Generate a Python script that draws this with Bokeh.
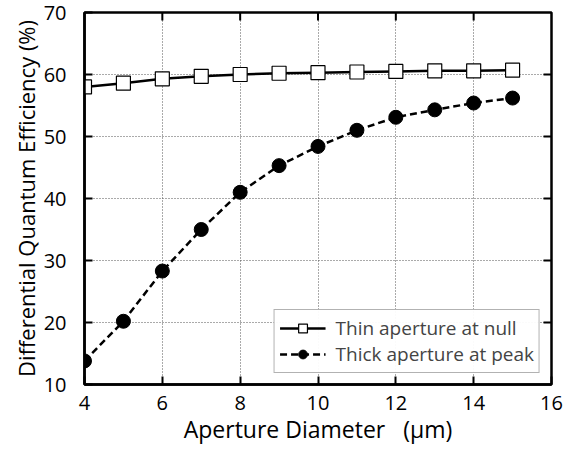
import math
from bokeh.plotting import figure
from bokeh.models import (ColumnDataSource, SingleIntervalTicker,
                          Legend, LegendItem, Range1d)
from bokeh.embed import file_html
from bokeh.resources import INLINE

# Aperture diameter (um)
diameter = [4, 5, 6, 7, 8, 9, 10, 11, 12, 13, 14, 15]
# Differential quantum efficiency (%)
thin_null = [58.0, 58.6, 59.3, 59.7, 60.0, 60.2, 60.3, 60.4, 60.5, 60.6, 60.6, 60.7]
thick_peak = [13.8, 20.2, 28.3, 35.0, 41.0, 45.3, 48.4, 51.0, 53.1, 54.3, 55.4, 56.2]

# inner tick positions mirrored on the top and right edges
x_ticks = [6, 8, 10, 12, 14]
y_ticks = [20, 30, 40, 50, 60]
X_MIN, X_MAX = 4, 16
Y_MIN, Y_MAX = 10, 70

FONT = "Open Sans"

src = ColumnDataSource(dict(x=diameter, thin=thin_null, thick=thick_peak))

p = figure(width=563, height=452, output_backend="svg", toolbar_location=None,
           x_range=Range1d(X_MIN, X_MAX), y_range=Range1d(Y_MIN, Y_MAX),
           min_border_left=84, min_border_right=12,
           min_border_top=12, min_border_bottom=68)
p.background_fill_color = "white"
p.border_fill_color = "white"
p.outline_line_color = "black"
p.outline_line_width = 2.5

xt = SingleIntervalTicker(interval=2)
yt = SingleIntervalTicker(interval=10)
p.xaxis.ticker = xt
p.yaxis.ticker = yt

for ax in (p.xaxis[0], p.yaxis[0]):
    ax.axis_line_width = 2.5
    ax.major_tick_in = 8
    ax.major_tick_out = 0
    ax.major_tick_line_width = 2
    ax.minor_tick_line_color = None
    ax.major_label_text_font = FONT
    ax.major_label_text_font_size = "20px"
    ax.major_label_text_color = "black"
    ax.axis_label_text_font = FONT
    ax.axis_label_text_font_style = "normal"
    ax.axis_label_text_color = "black"

p.xaxis.axis_label = "Aperture Diameter\u00a0\u00a0\u00a0(µm)"
p.xaxis.axis_label_text_font_size = "23px"
p.xaxis.major_label_standoff = 7
p.xaxis.axis_label_standoff = 0
p.yaxis.axis_label = "Differential Quantum Efficiency (%)"
p.yaxis.axis_label_text_font_size = "22px"
p.yaxis.major_label_standoff = 14
p.yaxis.axis_label_standoff = 0

p.grid.grid_line_color = "#555555"
p.grid.grid_line_dash = "1 2"
p.grid.grid_line_width = 1
p.xgrid.ticker = xt
p.ygrid.ticker = yt

# tick marks along the top and right edges (half of each dash is clipped by the frame)
p.scatter(x=x_ticks, y=[Y_MAX] * len(x_ticks), marker="dash", size=16,
          angle=math.pi / 2, line_color="black", line_width=2)
p.scatter(x=[X_MAX] * len(y_ticks), y=y_ticks, marker="dash", size=16,
          line_color="black", line_width=2)

thin_line = p.line("x", "thin", source=src, line_color="black", line_width=2.5)
thin_mark = p.scatter("x", "thin", source=src, marker="square", size=14,
                      fill_color="white", line_color="black", line_width=1.2)
thick_line = p.line("x", "thick", source=src, line_color="black", line_width=2.5,
                    line_dash="7 4")
thick_mark = p.scatter("x", "thick", source=src, marker="circle", size=14,
                       fill_color="black", line_color="black")

legend = Legend(items=[
    LegendItem(label="Thin aperture at null", renderers=[thin_line, thin_mark]),
    LegendItem(label="Thick aperture at peak", renderers=[thick_line, thick_mark]),
], location="bottom_right")
legend.label_text_font = FONT
legend.label_text_font_size = "19px"
legend.glyph_width = 46
legend.glyph_height = 22
legend.label_height = 22
legend.label_standoff = 10
legend.spacing = 0
legend.padding = 5
legend.margin = 11
legend.border_line_color = "#666666"
legend.border_line_width = 1
p.add_layout(legend)

open("out.html", "w").write(file_html(p, INLINE))
